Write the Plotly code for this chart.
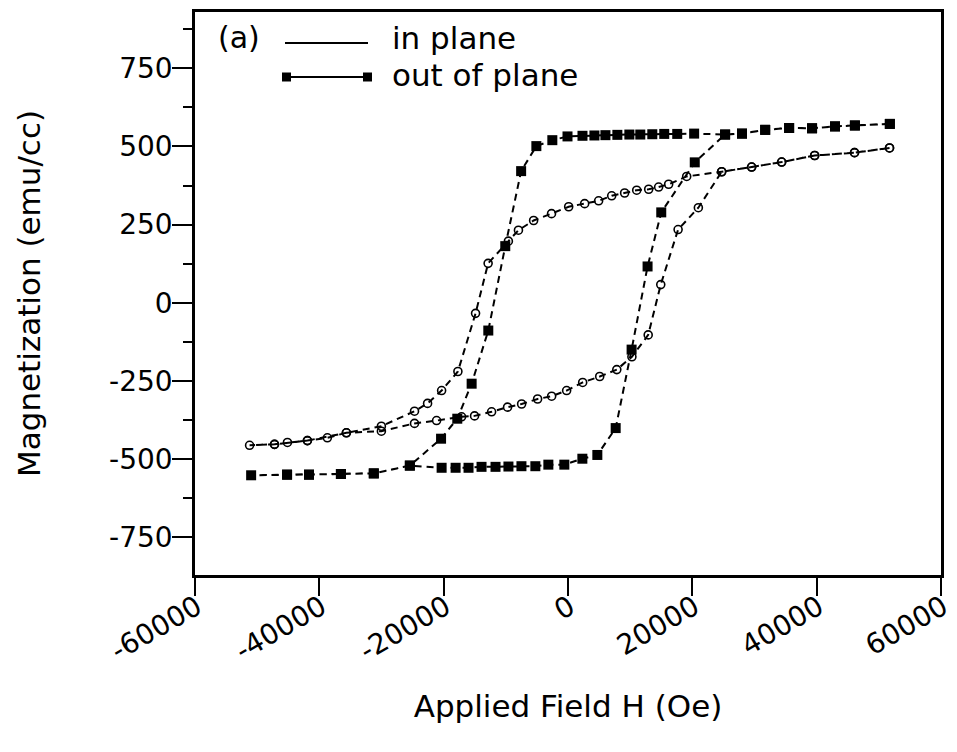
import plotly.graph_objects as go

# Applied field (Oe) and magnetization (emu/cc), in-plane loop:
# field swept down from +H max, then back up.
ip_field_down = [51720, 46090, 39680, 34370, 29540, 24720, 19090, 16190, 14580, 12980,
                 11050, 9110, 7030, 4930, 2680, 110, -2650, -5530, -7970, -9590,
                 -12850, -14870, -17710, -20330, -22590, -24690, -30020, -35650,
                 -38710, -41920, -45130, -47210, -51220]
ip_mag_down = [495, 480, 471, 450, 434, 419, 404, 379, 370, 363,
               360, 351, 342, 326, 317, 307, 285, 263, 232, 197,
               126, -34, -220, -281, -322, -347, -395, -416,
               -432, -441, -447, -453, -456]
ip_field_up = [-47210, -41920, -35650, -30020, -24690, -21140, -17120, -15030,
               -12290, -9720, -7460, -4890, -2630, -220, 2360, 5100, 7850, 10280,
               12900, 14920, 17710, 20970, 24720, 29540, 34370, 39680, 46090, 51720]
ip_mag_up = [-453, -441, -416, -411, -386, -377, -365, -362,
             -349, -334, -324, -308, -299, -281, -255, -236, -214, -173,
             -103, 58, 234, 304, 419, 434, 450, 471, 480, 495]

# Out-of-plane loop
oop_field_down = [51770, 46150, 42950, 39260, 35570, 31720, 27990, 25270, 20290, 17570,
                  15480, 13560, 11630, 9870, 7940, 6020, 4250, 2330, -80, -2520,
                  -5090, -7540, -10090, -12820, -15500, -17810, -20420, -25440,
                  -31240, -36530, -41660, -45190, -50970]
oop_mag_down = [572, 567, 564, 558, 559, 553, 541, 538, 541, 540,
                540, 539, 538, 538, 537, 536, 535, 534, 532, 520,
                501, 421, 181, -89, -259, -371, -435, -521,
                -546, -548, -550, -550, -552]
oop_field_up = [-45190, -41660, -36530, -31240, -25440, -20330, -18080, -16000,
                -13910, -11660, -9580, -7490, -5250, -3160, -590, 2310, 4720, 7670,
                10230, 12800, 15000, 20390, 25270, 27990, 31720, 35570, 39260,
                42950, 46150, 51770]
oop_mag_up = [-550, -550, -548, -546, -521, -528, -528, -528,
              -525, -525, -524, -523, -523, -518, -518, -499, -487, -401,
              -150, 116, 289, 449, 538, 541, 553, 559, 558,
              564, 567, 572]

x_ticks = [-60000, -40000, -20000, 0, 20000, 40000, 60000]
x_tick_text = ["-60000", "-40000", "-20000", "0", "20000", "40000", "60000"]
y_ticks = [-750, -500, -250, 0, 250, 500, 750]
y_tick_text = ["-750", "-500", "-250", "0", "250", "500", "750"]
y_minor = [-625, -375, -125, 125, 375, 625, 875]
top_major = [-40000, -20000, 0, 20000, 40000]
top_minor = [-50000, -30000, -10000, 10000, 30000, 50000]

FONT = "DejaVu Sans"
INK = "black"
DASH = "7px,5px"

fig = go.Figure()
fig.add_trace(go.Scatter(
    x=ip_field_down + ip_field_up, y=ip_mag_down + ip_mag_up,
    mode="lines+markers", name="in plane",
    line=dict(color=INK, width=2, dash=DASH),
    marker=dict(symbol="circle-open", size=8, color=INK, line=dict(width=1.6, color=INK)),
))
fig.add_trace(go.Scatter(
    x=oop_field_down + oop_field_up, y=oop_mag_down + oop_mag_up,
    mode="lines+markers", name="out of plane",
    line=dict(color=INK, width=2, dash=DASH),
    marker=dict(symbol="square", size=10, color=INK),
))

# Plot-area geometry in pixels, used to place the hand-drawn key
W, H = 957, 752
ML, MR, MT, MB = 195, 16, 12, 177
PW, PH = W - ML - MR, H - MT - MB


def px(xp):
    return (xp - ML) / PW


def py(yp):
    return (H - MB - yp) / PH


shapes = [
    # in plane key line
    dict(type="line", xref="paper", yref="paper", x0=px(285), x1=px(368), y0=py(43), y1=py(43),
         line=dict(color=INK, width=2)),
    # out of plane key line with end squares
    dict(type="line", xref="paper", yref="paper", x0=px(287), x1=px(367), y0=py(77), y1=py(77),
         line=dict(color=INK, width=2)),
    dict(type="rect", xref="paper", yref="paper", x0=px(282), x1=px(291), y0=py(72.5), y1=py(81.5),
         fillcolor=INK, line=dict(width=0)),
    dict(type="rect", xref="paper", yref="paper", x0=px(363), x1=px(372), y0=py(72.5), y1=py(81.5),
         fillcolor=INK, line=dict(width=0)),
]
annotations = [
    dict(text="(a)", xref="paper", yref="paper", x=px(216), y=py(38), xanchor="left", yanchor="middle",
         showarrow=False, font=dict(family=FONT, size=30, color=INK)),
    dict(text="in plane", xref="paper", yref="paper", x=px(390), y=py(38), xanchor="left", yanchor="middle",
         showarrow=False, font=dict(family=FONT, size=31, color=INK)),
    dict(text="out of plane", xref="paper", yref="paper", x=px(390), y=py(75), xanchor="left", yanchor="middle",
         showarrow=False, font=dict(family=FONT, size=31, color=INK)),
]

fig.update_layout(
    width=W, height=H,
    margin=dict(l=ML, r=MR, t=MT, b=MB, pad=0),
    paper_bgcolor="white", plot_bgcolor="white",
    font=dict(family=FONT, size=28, color=INK),
    showlegend=False,
    shapes=shapes, annotations=annotations,
    xaxis=dict(
        range=[-60000, 60000], tickmode="array", tickvals=x_ticks, ticktext=x_tick_text,
        ticks="outside", ticklen=18, tickwidth=2, tickcolor=INK, tickangle=-30,
        ticklabelstandoff=-16, ticklabelshift=2, ticklabeloverflow="allow",
        showline=True, linewidth=2.5, linecolor=INK, mirror=True,
        showgrid=False, zeroline=False, automargin=False,
        title=dict(text="Applied Field H (Oe)", font=dict(family=FONT, size=31), standoff=30),
    ),
    xaxis2=dict(
        range=[-60000, 60000], overlaying="x", side="top", anchor="y",
        tickmode="array", tickvals=top_major, ticks="inside", ticklen=20, tickwidth=2, tickcolor=INK,
        minor=dict(tickmode="array", tickvals=top_minor, ticks="inside", ticklen=8, tickwidth=2, tickcolor=INK),
        showticklabels=False, showline=False, showgrid=False, zeroline=False,
    ),
    yaxis=dict(
        range=[-871, 930], tickmode="array", tickvals=y_ticks, ticktext=y_tick_text,
        ticks="outside", ticklen=20, tickwidth=2, tickcolor=INK,
        ticklabelstandoff=-6,
        minor=dict(tickmode="array", tickvals=y_minor, ticks="outside", ticklen=9, tickwidth=2, tickcolor=INK),
        showline=True, linewidth=2.5, linecolor=INK, mirror=True,
        showgrid=False, zeroline=False, automargin=False,
        title=dict(text="Magnetization (emu/cc)", font=dict(family=FONT, size=31), standoff=60),
    ),
)

fig.write_html("out.html")
